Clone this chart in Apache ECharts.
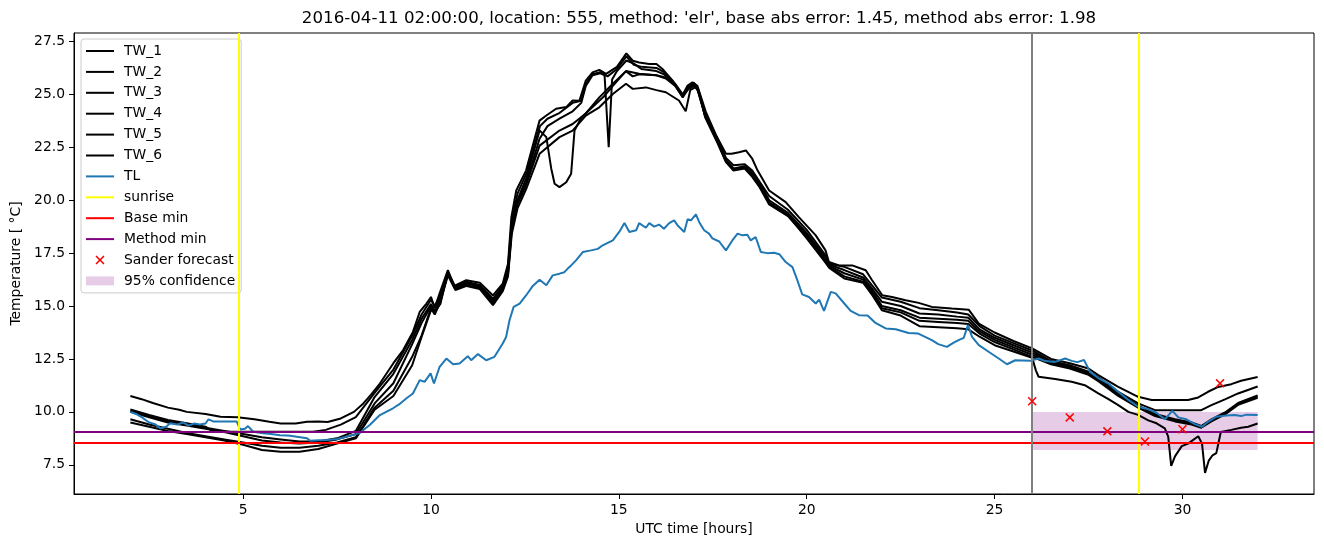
<!DOCTYPE html>
<html><head><meta charset="utf-8">
<script src="https://cdn.jsdelivr.net/npm/echarts@6/dist/echarts.min.js"></script>
<style>html,body{margin:0;padding:0;background:#fff}#c{width:1324px;height:547px}</style>
</head><body><div id="c"></div>
<script>
// ---- data (hours UTC, temperature °C) ----
const TW_1 = [[2.0,10.75],[2.3,10.6],[2.6,10.42],[3.0,10.2],[3.3,10.1],[3.5,10.0],[4.0,9.9],[4.4,9.77],[4.85,9.75],[5.3,9.65],[5.7,9.53],[6.0,9.45],[6.4,9.45],[6.7,9.53],[7.0,9.55],[7.25,9.52],[7.6,9.69],[7.95,10.0],[8.2,10.4],[8.4,10.8],[8.64,11.34],[9.0,12.3],[9.26,12.92],[9.52,13.78],[9.7,14.72],[9.88,15.12],[10.0,15.43],[10.1,14.9],[10.23,15.6],[10.45,16.7],[10.62,15.95],[10.94,16.22],[11.3,16.1],[11.65,15.5],[11.91,16.06],[12.05,17.0],[12.14,19.2],[12.27,20.46],[12.53,21.4],[12.89,23.76],[13.07,24.0],[13.33,24.32],[13.6,24.4],[13.77,24.71],[13.95,24.7],[14.12,25.65],[14.3,26.04],[14.48,26.16],[14.66,25.97],[14.95,26.3],[15.2,26.94],[15.37,26.59],[15.54,26.51],[15.81,26.44],[16.0,26.44],[16.16,26.2],[16.43,25.65],[16.69,24.95],[16.83,25.42],[16.96,25.57],[17.09,25.4],[17.31,24.2],[17.58,23.1],[17.85,22.2],[18.0,22.2],[18.2,22.27],[18.38,22.35],[18.55,21.96],[18.69,21.41],[19.0,20.46],[19.44,19.91],[19.79,19.2],[20.24,18.34],[20.5,17.63],[20.59,17.08],[20.86,16.92],[21.21,16.92],[21.57,16.69],[21.74,16.22],[22.01,15.51],[22.27,15.43],[22.63,15.27],[22.98,15.15],[23.33,14.96],[23.86,14.88],[24.31,14.83],[24.58,14.17],[25.0,13.75],[25.5,13.35],[26.0,13.0],[26.5,12.5],[27.0,12.3],[27.5,12.05],[27.76,11.74],[28.29,11.18],[28.82,10.71],[29.18,10.56],[30.15,10.56],[30.42,10.68],[30.68,10.95],[30.95,11.18],[31.3,11.31],[31.56,11.47],[32.0,11.65]];
const TW_2 = [[2.0,10.12],[2.5,9.85],[3.0,9.62],[3.5,9.46],[4.0,9.3],[4.2,9.06],[5.0,9.06],[6.0,9.06],[6.86,9.06],[7.2,9.15],[7.6,9.4],[8.0,9.75],[8.5,10.9],[9.0,12.0],[9.5,13.6],[9.75,14.6],[10.0,15.3],[10.1,15.0],[10.25,15.5],[10.45,16.6],[10.62,15.9],[10.94,16.15],[11.3,16.0],[11.65,15.35],[11.91,15.95],[12.05,16.8],[12.15,19.0],[12.3,20.3],[12.55,21.3],[12.9,23.5],[13.1,23.85],[13.4,24.1],[13.77,24.6],[14.0,24.7],[14.12,25.5],[14.3,25.95],[14.5,26.05],[14.7,25.85],[14.95,26.2],[15.2,26.8],[15.4,26.4],[15.6,26.3],[16.0,26.25],[16.2,26.05],[16.45,25.6],[16.7,24.9],[16.85,25.35],[17.0,25.5],[17.1,25.3],[17.3,24.1],[17.6,23.0],[17.85,22.0],[18.05,21.65],[18.35,21.7],[18.55,21.4],[18.7,21.0],[19.0,20.2],[19.5,19.55],[20.0,18.6],[20.5,17.4],[20.6,17.0],[21.0,16.85],[21.5,16.5],[21.75,15.95],[22.0,15.4],[22.5,15.2],[23.0,14.9],[23.5,14.8],[24.0,14.7],[24.3,14.6],[24.6,14.05],[25.0,13.6],[25.5,13.25],[26.0,12.9],[26.5,12.4],[27.0,12.2],[27.5,11.9],[27.76,11.63],[28.29,10.95],[28.82,10.4],[29.27,10.08],[30.5,10.08],[30.77,10.32],[31.13,10.59],[31.48,10.87],[32.0,11.2]];
const TW_3 = [[2.0,10.05],[2.5,9.8],[3.0,9.55],[3.5,9.4],[4.0,9.25],[4.5,9.1],[5.0,8.95],[5.5,8.8],[6.0,8.7],[6.5,8.6],[7.0,8.6],[7.5,8.75],[8.0,9.1],[8.5,10.7],[9.0,11.8],[9.5,13.4],[9.75,14.4],[10.0,15.1],[10.1,14.75],[10.25,15.4],[10.45,16.55],[10.65,15.85],[10.95,16.05],[11.3,15.95],[11.65,15.2],[11.91,15.85],[12.05,16.6],[12.15,18.8],[12.3,20.0],[12.55,21.1],[12.89,23.3],[13.07,22.98],[13.2,21.5],[13.29,20.78],[13.42,20.62],[13.6,20.85],[13.73,21.25],[13.82,23.29],[14.0,23.9],[14.3,24.4],[14.6,24.9],[14.84,25.4],[15.19,26.1],[15.37,25.85],[15.54,25.95],[16.0,25.9],[16.25,25.8],[16.5,25.5],[16.7,25.0],[16.85,25.3],[17.0,25.45],[17.1,25.25],[17.3,23.95],[17.6,22.9],[17.85,21.9],[18.05,21.5],[18.35,21.6],[18.55,21.3],[18.75,20.8],[19.0,20.0],[19.5,19.4],[20.0,18.45],[20.5,17.3],[20.6,16.95],[21.0,16.7],[21.5,16.35],[21.75,15.8],[22.0,15.2],[22.5,15.0],[23.0,14.65],[23.5,14.6],[24.0,14.5],[24.3,14.45],[24.6,13.9],[25.0,13.5],[25.5,13.15],[26.0,12.8],[26.5,12.35],[27.0,12.15],[27.5,11.85],[27.76,11.55],[28.29,10.85],[28.82,10.3],[29.27,9.9],[29.8,9.65],[30.24,9.5],[30.5,9.33],[30.77,9.65],[31.13,9.97],[31.48,10.42],[32.0,10.78]];
const TW_4 = [[2.0,10.0],[2.5,9.75],[3.0,9.5],[3.5,9.35],[4.0,9.2],[4.5,9.05],[5.0,8.85],[5.5,8.65],[6.0,8.55],[6.5,8.5],[7.0,8.55],[7.5,8.7],[8.0,8.95],[8.5,10.4],[9.0,11.35],[9.5,13.2],[9.75,14.2],[10.0,15.0],[10.1,14.7],[10.25,15.3],[10.45,16.5],[10.65,15.8],[10.95,15.98],[11.3,15.85],[11.65,15.1],[11.91,15.75],[12.05,16.5],[12.15,18.6],[12.3,19.9],[12.55,20.9],[12.89,22.9],[13.1,23.5],[13.42,23.85],[13.77,24.2],[14.0,24.6],[14.12,25.4],[14.3,25.9],[14.5,26.0],[14.62,25.9],[14.73,22.5],[14.82,25.7],[14.95,26.1],[15.2,26.6],[15.4,26.45],[15.6,26.2],[16.0,26.1],[16.2,25.95],[16.45,25.55],[16.7,24.85],[16.85,25.3],[17.0,25.55],[17.1,25.2],[17.3,24.0],[17.6,22.95],[17.85,21.85],[18.05,21.45],[18.35,21.55],[18.55,21.2],[18.75,20.7],[19.0,19.9],[19.5,19.3],[20.0,18.35],[20.5,17.2],[20.6,16.9],[21.0,16.55],[21.5,16.25],[21.75,15.7],[22.0,15.0],[22.5,14.8],[23.0,14.45],[23.5,14.4],[24.0,14.35],[24.3,14.3],[24.6,13.8],[25.0,13.4],[25.5,13.05],[26.0,12.7],[26.5,12.3],[27.0,12.1],[27.5,11.8],[27.76,11.5],[28.29,10.8],[28.82,10.24],[29.27,9.85],[29.8,9.6],[30.24,9.45],[30.5,9.28],[30.77,9.6],[31.13,9.93],[31.48,10.38],[32.0,10.72]];
const TW_5 = [[2.0,9.65],[2.5,9.4],[3.0,9.2],[3.5,9.0],[4.0,8.85],[4.5,8.7],[5.0,8.55],[5.5,8.4],[6.0,8.3],[6.5,8.3],[7.0,8.4],[7.5,8.55],[8.0,8.8],[8.5,10.2],[9.0,11.0],[9.5,12.6],[9.75,13.6],[10.0,14.9],[10.1,14.6],[10.25,15.2],[10.45,16.45],[10.65,15.75],[10.95,15.95],[11.3,15.8],[11.65,15.04],[11.91,15.7],[12.05,16.4],[12.15,18.4],[12.3,19.6],[12.55,20.6],[12.89,22.19],[13.42,22.98],[13.77,23.29],[14.12,24.0],[14.48,24.39],[14.84,25.02],[15.19,25.5],[15.37,25.26],[15.72,25.33],[16.0,25.2],[16.25,25.1],[16.6,24.71],[16.78,24.2],[16.9,25.2],[17.05,25.35],[17.15,25.0],[17.3,23.9],[17.6,22.8],[17.85,21.8],[18.05,21.4],[18.35,21.5],[18.55,21.1],[18.75,20.6],[19.0,19.8],[19.5,19.25],[20.0,18.25],[20.5,17.1],[20.6,16.85],[21.0,16.4],[21.5,16.15],[21.75,15.6],[22.0,14.9],[22.5,14.7],[23.0,14.3],[23.5,14.25],[24.0,14.2],[24.3,14.15],[24.6,13.7],[25.0,13.3],[25.5,12.95],[26.0,12.6],[26.5,12.25],[27.0,12.05],[27.5,11.75],[27.76,11.45],[28.29,10.75],[28.82,10.2],[29.27,9.8],[29.8,9.55],[30.24,9.4],[30.5,9.25],[30.77,9.55],[31.13,9.88],[31.48,10.33],[32.0,10.66]];
const TW_6 = [[2.0,9.5],[2.5,9.3],[3.0,9.1],[3.5,8.95],[4.0,8.8],[4.5,8.65],[5.0,8.45],[5.5,8.2],[6.0,8.12],[6.5,8.12],[7.0,8.25],[7.5,8.5],[8.0,8.75],[8.5,10.1],[9.0,10.75],[9.5,12.2],[9.75,13.54],[10.0,14.8],[10.1,14.72],[10.25,15.1],[10.45,16.6],[10.65,15.9],[10.95,16.1],[11.3,15.9],[11.65,15.25],[11.91,15.8],[12.05,16.7],[12.15,18.7],[12.3,19.8],[12.55,20.8],[12.89,22.58],[13.42,23.29],[13.77,23.6],[14.12,24.1],[14.48,24.86],[14.84,25.5],[15.19,26.1],[15.54,25.97],[16.0,25.9],[16.25,25.75],[16.5,25.4],[16.7,24.9],[16.85,25.25],[17.0,25.4],[17.1,25.2],[17.3,23.95],[17.6,22.85],[17.85,21.85],[18.05,21.45],[18.35,21.55],[18.55,21.15],[18.75,20.65],[19.0,19.85],[19.5,19.3],[20.0,18.2],[20.5,17.05],[20.6,16.8],[21.0,16.3],[21.5,16.1],[21.75,15.5],[22.0,14.8],[22.5,14.55],[23.0,14.05],[23.5,14.0],[24.0,13.95],[24.3,13.9],[24.6,13.55],[25.0,13.15],[25.5,12.85],[26.0,12.55],[26.1,11.95],[26.17,11.66],[26.61,11.55],[27.05,11.42],[27.4,11.26],[27.76,10.87],[28.03,10.6],[28.29,10.32],[28.56,10.0],[28.82,9.86],[29.09,9.6],[29.31,9.46],[29.53,9.22],[29.62,8.83],[29.7,7.45],[29.8,7.9],[29.98,8.38],[30.15,8.5],[30.42,8.85],[30.52,8.5],[30.6,7.12],[30.7,7.7],[30.8,7.95],[30.9,8.05],[31.02,9.05],[31.3,9.15],[31.56,9.25],[31.75,9.3],[32.0,9.45]];
const TL = [[2.0,10.0],[2.15,9.9],[2.3,9.75],[2.5,9.5],[2.65,9.42],[2.8,9.22],[2.95,9.3],[3.06,9.46],[3.25,9.4],[3.4,9.5],[3.55,9.35],[3.7,9.45],[3.85,9.4],[4.0,9.45],[4.08,9.65],[4.2,9.55],[4.5,9.55],[4.83,9.55],[4.92,9.17],[5.05,9.2],[5.13,9.33],[5.27,9.06],[5.53,8.99],[5.75,8.95],[5.98,8.9],[6.2,8.88],[6.43,8.83],[6.7,8.75],[6.78,8.64],[7.0,8.66],[7.23,8.67],[7.5,8.72],[7.76,8.83],[8.0,8.95],[8.11,9.01],[8.37,9.38],[8.64,9.85],[8.99,10.17],[9.15,10.35],[9.35,10.64],[9.52,10.87],[9.7,11.5],[9.83,11.42],[9.99,11.82],[10.08,11.34],[10.23,12.13],[10.41,12.52],[10.59,12.25],[10.76,12.29],[10.98,12.63],[11.07,12.44],[11.25,12.73],[11.47,12.44],[11.69,12.6],[11.91,13.23],[12.0,13.54],[12.09,14.33],[12.2,14.96],[12.36,15.12],[12.53,15.5],[12.71,15.95],[12.89,16.24],[13.07,15.98],[13.24,16.45],[13.42,16.53],[13.55,16.6],[13.64,16.77],[13.73,16.92],[13.86,17.16],[14.04,17.55],[14.26,17.63],[14.44,17.7],[14.57,17.87],[14.84,18.1],[15.01,18.5],[15.15,18.92],[15.28,18.5],[15.46,18.58],[15.54,18.92],[15.72,18.7],[15.81,18.92],[15.94,18.75],[16.07,18.85],[16.2,18.65],[16.34,18.92],[16.47,19.05],[16.56,18.82],[16.74,18.5],[16.83,19.1],[16.92,19.05],[17.05,19.33],[17.14,18.96],[17.27,18.58],[17.4,18.42],[17.49,18.2],[17.67,18.05],[17.85,17.63],[18.02,18.1],[18.16,18.42],[18.29,18.34],[18.42,18.37],[18.51,18.1],[18.64,18.26],[18.78,17.55],[18.95,17.5],[19.13,17.52],[19.27,17.45],[19.44,17.08],[19.62,16.84],[19.75,16.22],[19.88,15.55],[20.06,15.43],[20.24,15.12],[20.33,15.3],[20.46,14.77],[20.64,15.67],[20.77,15.6],[21.0,15.12],[21.17,14.77],[21.39,14.57],[21.62,14.55],[21.83,14.2],[22.1,13.94],[22.37,13.9],[22.71,13.73],[22.97,13.7],[23.33,13.39],[23.5,13.2],[23.73,13.07],[23.9,13.26],[24.04,13.39],[24.18,13.5],[24.29,14.1],[24.4,13.54],[24.58,13.15],[24.84,12.84],[25.11,12.52],[25.33,12.25],[25.55,12.44],[25.95,12.41],[26.17,12.52],[26.35,12.4],[26.61,12.36],[26.88,12.52],[27.05,12.41],[27.2,12.35],[27.38,12.45],[27.54,11.89],[27.76,11.6],[28.03,11.34],[28.29,10.95],[28.56,10.56],[28.82,10.24],[29.09,10.12],[29.31,9.96],[29.53,9.65],[29.73,10.05],[29.89,9.74],[30.1,9.65],[30.33,9.42],[30.52,9.3],[30.68,9.53],[30.9,9.77],[31.16,9.83],[31.39,9.85],[31.56,9.8],[31.7,9.87],[32.0,9.85]];
const SUNRISE = [4.88, 28.84];
const FORECAST_TIME = [26.0];
const BASE_MIN = [8.55];
const METHOD_MIN = [9.05];
const SANDER = [[26,10.5],[27,9.74],[28,9.08],[29,8.6],[30,9.18],[31,11.35]];
const CONF_X = [26, 32];
const CONF_Y = [8.2, 10.0];
const X_TICKS = [5, 10, 15, 20, 25, 30];
const Y_TICKS = [7.5, 10.0, 12.5, 15.0, 17.5, 20.0, 22.5, 25.0, 27.5];
const X_RANGE = [0.5, 33.5];
const Y_RANGE = [6.12, 27.9];
const TITLE = "2016-04-11 02:00:00, location: 555, method: 'elr', base abs error: 1.45, method abs error: 1.98";

// ---- chart ----
const FONT = 'DejaVu Sans';
const LINE_ICON = 'path://M0,0 L28,0 L28,2 L0,2 Z';
const X_ICON = 'path://M0,1.2 L1.2,0 L5,3.8 L8.8,0 L10,1.2 L6.2,5 L10,8.8 L8.8,10 L5,6.2 L1.2,10 L0,8.8 L3.8,5 Z';
const chart = echarts.init(document.getElementById('c'), null, {renderer: 'canvas'});

function lineSeries(name, data, color) {
  return {name, type: 'line', data, showSymbol: false, symbol: 'none', color,
    lineStyle: {color, width: 2}, itemStyle: {color}, animation: false, silent: true, z: 2};
}
function emptyMark(name, color, markLine, z) {
  return {name, type: 'line', data: [], color, itemStyle: {color}, lineStyle: {color, width: 2},
    animation: false, silent: true, z: z || 3,
    markLine: {silent: true, symbol: ['none', 'none'], label: {show: false}, animation: false,
      lineStyle: {color, width: 2, type: 'solid'}, emphasis: {disabled: true}, data: markLine}};
}
const series = [
  lineSeries('TW_1', TW_1, '#000'), lineSeries('TW_2', TW_2, '#000'), lineSeries('TW_3', TW_3, '#000'),
  lineSeries('TW_4', TW_4, '#000'), lineSeries('TW_5', TW_5, '#000'), lineSeries('TW_6', TW_6, '#000'),
  lineSeries('TL', TL, '#1f77b4'),
  emptyMark('sunrise', '#ffff00', SUNRISE.map(v => ({xAxis: v}))),
  emptyMark('Base min', '#ff0000', BASE_MIN.map(v => ({yAxis: v}))),
  emptyMark('Method min', '#800080', METHOD_MIN.map(v => ({yAxis: v}))),
  emptyMark('forecast time', '#808080', FORECAST_TIME.map(v => ({xAxis: v}))),
  {name: 'Sander forecast', type: 'scatter', data: SANDER, symbol: X_ICON, symbolSize: 9,
    color: '#ff0000', itemStyle: {color: '#ff0000', opacity: 1}, animation: false, silent: true, z: 5},
  {name: '95% confidence', type: 'line', data: [], color: 'rgba(128,0,128,0.2)',
    itemStyle: {color: 'rgba(128,0,128,0.2)'}, animation: false, silent: true, z: 1,
    markArea: {silent: true, animation: false, itemStyle: {color: 'rgba(128,0,128,0.2)'},
      data: [[{xAxis: CONF_X[0], yAxis: CONF_Y[0]}, {xAxis: CONF_X[1], yAxis: CONF_Y[1]}]]}}
];

chart.setOption({
  animation: false,
  backgroundColor: '#fff',
  textStyle: {fontFamily: FONT},
  title: {text: TITLE, left: 694, top: 5, textAlign: 'center',
    textStyle: {fontFamily: FONT, fontSize: 16.67, fontWeight: 'normal', color: '#000'}},
  grid: {left: 74, right: 10, top: 33, bottom: 53, show: true, borderColor: '#000', borderWidth: 1, backgroundColor: 'transparent'},
  xAxis: {type: 'value', min: X_RANGE[0], max: X_RANGE[1],
    name: 'UTC time [hours]', nameLocation: 'middle', nameGap: 28,
    nameTextStyle: {fontFamily: FONT, fontSize: 13.89, color: '#000'},
    axisLine: {show: true, onZero: false, lineStyle: {color: '#000', width: 1}},
    axisTick: {show: true, length: 5, inside: false, lineStyle: {color: '#000'}, customValues: X_TICKS},
    axisLabel: {show: true, margin: 9, color: '#000', fontFamily: FONT, fontSize: 13.89, customValues: X_TICKS,
      formatter: v => String(v)},
    splitLine: {show: false}},
  yAxis: {type: 'value', min: Y_RANGE[0], max: Y_RANGE[1],
    name: 'Temperature [ °C]', nameLocation: 'middle', nameGap: 50, nameRotate: 90,
    nameTextStyle: {fontFamily: FONT, fontSize: 13.89, color: '#000'},
    axisLine: {show: true, onZero: false, lineStyle: {color: '#000', width: 1}},
    axisTick: {show: true, length: 5, inside: false, lineStyle: {color: '#000'}, customValues: Y_TICKS},
    axisLabel: {show: true, margin: 9, color: '#000', fontFamily: FONT, fontSize: 13.89, customValues: Y_TICKS,
      formatter: v => Number(v).toFixed(1)},
    splitLine: {show: false}},
  legend: {
    orient: 'vertical', left: 81, top: 39, padding: [5, 6, 5, 5],
    itemWidth: 28, itemHeight: 9, itemGap: 6.9, symbolKeepAspect: true,
    backgroundColor: 'rgba(255,255,255,0.8)', borderColor: '#cccccc', borderWidth: 1, borderRadius: 3,
    textStyle: {fontFamily: FONT, fontSize: 13.89, color: '#000', padding: [0, 0, 0, 5]},
    itemStyle: {borderWidth: 0},
    selectedMode: false,
    data: [
      {name: 'TW_1', icon: LINE_ICON}, {name: 'TW_2', icon: LINE_ICON}, {name: 'TW_3', icon: LINE_ICON},
      {name: 'TW_4', icon: LINE_ICON}, {name: 'TW_5', icon: LINE_ICON}, {name: 'TW_6', icon: LINE_ICON},
      {name: 'TL', icon: LINE_ICON}, {name: 'sunrise', icon: LINE_ICON}, {name: 'Base min', icon: LINE_ICON},
      {name: 'Method min', icon: LINE_ICON}, {name: 'Sander forecast', icon: X_ICON},
      {name: '95% confidence', icon: 'rect'}
    ]
  },
  series
});
</script></body></html>
